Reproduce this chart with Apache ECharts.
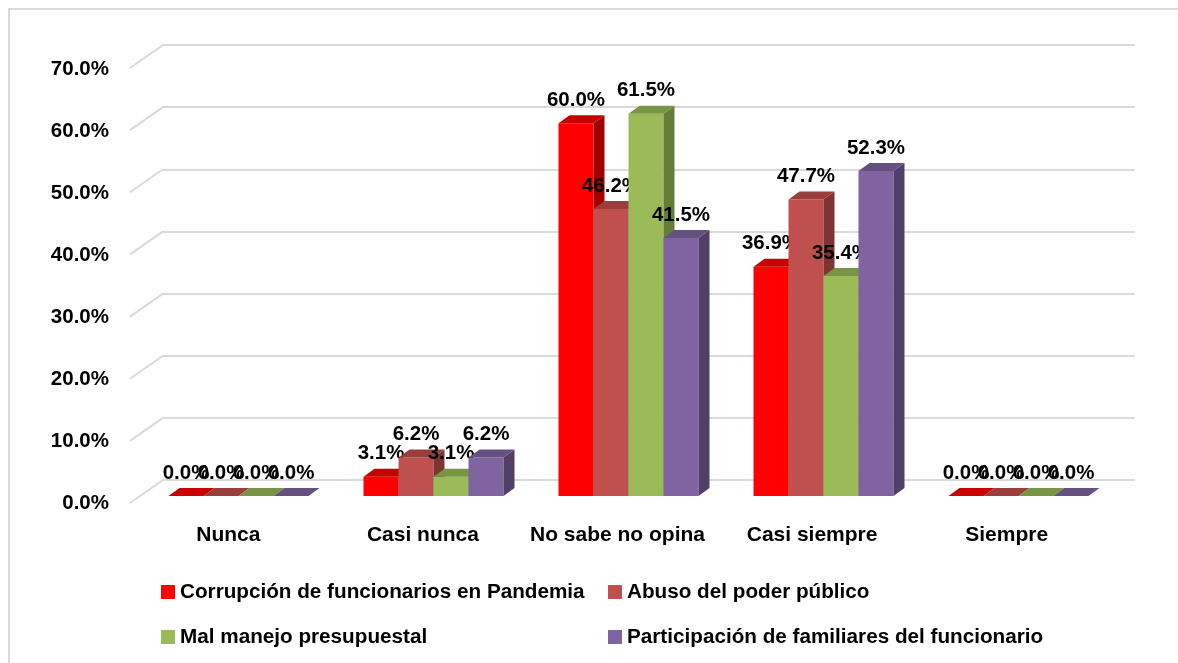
<!DOCTYPE html>
<html>
<head>
<meta charset="utf-8">
<script src="https://cdn.jsdelivr.net/npm/echarts@6/dist/echarts.min.js"></script>
<style>
html,body{margin:0;padding:0;background:#fff;}
#c{width:1178px;height:663px;}
</style>
</head>
<body>
<div id="c"></div>
<script>
const categories = ['Nunca', 'Casi nunca', 'No sabe no opina', 'Casi siempre', 'Siempre'];
const seriesNames = ['Corrupción de funcionarios en Pandemia', 'Abuso del poder público', 'Mal manejo presupuestal', 'Participación de familiares del funcionario'];
const corrupcion = [0.0, 3.1, 60.0, 36.9, 0.0];
const abuso = [0.0, 6.2, 46.2, 47.7, 0.0];
const malManejo = [0.0, 3.1, 61.5, 35.4, 0.0];
const participacion = [0.0, 6.2, 41.5, 52.3, 0.0];
const yTicks = [0, 10, 20, 30, 40, 50, 60, 70];

const seriesValues = [corrupcion, abuso, malManejo, participacion];
const palette = [
  {front: '#FF0000', top: '#C80000', side: '#A00000'},
  {front: '#C0504D', top: '#9A3E3C', side: '#7E3432'},
  {front: '#9BBB59', top: '#779544', side: '#657E37'},
  {front: '#8064A2', top: '#65507F', side: '#523F68'}
];
const FONT = '"Liberation Sans", Arial, sans-serif';
const DX = 11, DY = 8;

const chart = echarts.init(document.getElementById('c'), null, {renderer: 'canvas'});

function barRenderer(s) {
  return function (params, api) {
    const i = api.value(0), v = api.value(1);
    const base = api.coord([i, 0]);
    const top = api.coord([i, v]);
    const bw = api.size([1, 0])[0];
    const barW = bw * 35 / 195;
    const x0 = base[0] - 2 * barW + s * barW;
    const x1 = x0 + barW;
    const yb = base[1], yt = top[1];
    const c = palette[s];
    const children = [];
    if (yb - yt > 0.5) {
      children.push({type: 'rect', shape: {x: x0, y: yt, width: barW, height: yb - yt}, style: {fill: c.front}});
      children.push({type: 'polygon', shape: {points: [[x1, yt], [x1 + DX, yt - DY], [x1 + DX, yb - DY], [x1, yb]]}, style: {fill: c.side}});
    }
    children.push({type: 'polygon', shape: {points: [[x0, yt], [x1, yt], [x1 + DX, yt - DY], [x0 + DX, yt - DY]]}, style: {fill: c.top}});
    children.push({type: 'text', style: {
      x: x0 + barW / 2, y: yt - 23, text: v.toFixed(1) + '%',
      align: 'center', verticalAlign: 'middle',
      font: 'bold 20.5px ' + FONT, fill: '#000'
    }, z2: 10});
    return {type: 'group', children: children};
  };
}

const barSeries = seriesValues.map((vals, s) => ({
  name: seriesNames[s],
  type: 'custom',
  xAxisIndex: 2, yAxisIndex: 2,
  itemStyle: {color: palette[s].front},
  data: vals.map((v, i) => [i, v]),
  encode: {x: 0, y: 1},
  renderItem: barRenderer(s),
  z: 5 + s
}));

const diagSeries = {
  name: 'diag',
  type: 'custom',
  xAxisIndex: 1, yAxisIndex: 1,
  silent: true,
  data: yTicks.map(v => [0, v]),
  encode: {x: 0, y: 1},
  renderItem: function (params, api) {
    const p = api.coord([0, api.value(1)]);
    const x = params.coordSys.x;
    return {type: 'line', shape: {x1: x, y1: p[1], x2: x - 33, y2: p[1] + 23},
      style: {stroke: '#d9d9d9', lineWidth: 2}};
  },
  z: 1
};

function legendAt(name, left, top) {
  return {
    data: [name], left: left, top: top, orient: 'horizontal',
    icon: 'rect', itemWidth: 14, itemHeight: 14, padding: 0,
    selectedMode: false,
    textStyle: {fontFamily: FONT, fontWeight: 'bold', fontSize: 20.7, lineHeight: 22, color: '#000'}
  };
}

const option = {
  backgroundColor: '#fff',
  animation: false,
  graphic: [{type: 'rect', shape: {x: 9, y: 9, width: 1400, height: 900},
    style: {fill: null, stroke: '#d9d9d9', lineWidth: 2}, silent: true}],
  legend: [
    legendAt(seriesNames[0], 161, 581),
    legendAt(seriesNames[1], 608, 581),
    legendAt(seriesNames[2], 161, 626),
    legendAt(seriesNames[3], 608, 626)
  ],
  grid: [
    {left: 131, top: 69, width: 973, height: 434},
    {left: 163, top: 45, width: 972, height: 435},
    {left: 141, top: 61, width: 975, height: 435}
  ],
  xAxis: [
    {type: 'category', gridIndex: 0, data: categories,
      axisLine: {show: false}, axisTick: {show: false}, splitLine: {show: false},
      axisLabel: {interval: 0, margin: 22, fontFamily: FONT, fontWeight: 'bold', fontSize: 21, color: '#000'}},
    {type: 'category', gridIndex: 1, data: categories, show: false},
    {type: 'category', gridIndex: 2, data: categories, show: false}
  ],
  yAxis: [
    {type: 'value', gridIndex: 0, min: 0, max: 70, interval: 10,
      axisLine: {show: false}, axisTick: {show: false}, splitLine: {show: false},
      axisLabel: {margin: 22, fontFamily: FONT, fontWeight: 'bold', fontSize: 20.5, color: '#000',
        formatter: v => v.toFixed(1) + '%'}},
    {type: 'value', gridIndex: 1, min: 0, max: 70, interval: 10,
      axisLine: {show: false}, axisTick: {show: false}, axisLabel: {show: false},
      splitLine: {show: true, lineStyle: {color: '#d9d9d9', width: 2}}},
    {type: 'value', gridIndex: 2, min: 0, max: 70, interval: 10, show: false}
  ],
  series: [diagSeries].concat(barSeries)
};
chart.setOption(option);
</script>
</body>
</html>
